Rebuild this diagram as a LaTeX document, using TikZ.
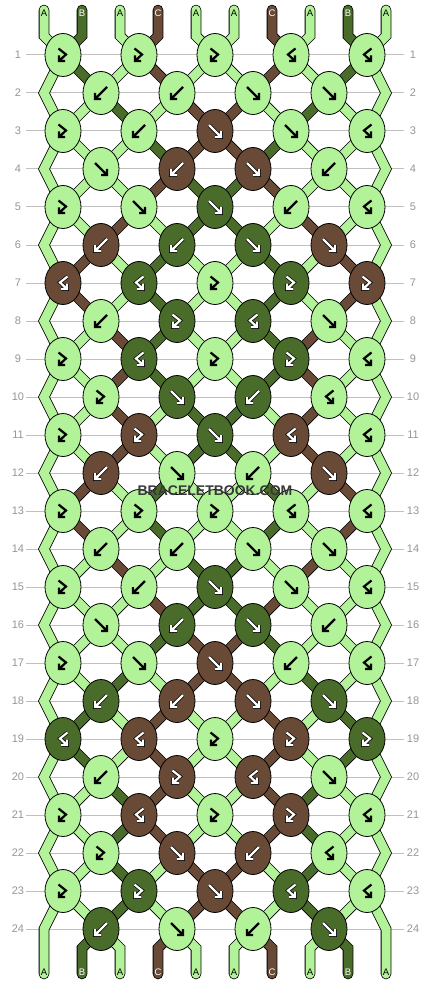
\documentclass[tikz,border=0pt]{standalone}
\usepackage{fontspec}
\setsansfont{Liberation Sans}
\usetikzlibrary{shapes.geometric}
\pgfdeclarelayer{grid}
\pgfdeclarelayer{strings}
\pgfsetlayers{grid,strings,main}

\definecolor{colA}{RGB}{178,242,152}
\definecolor{colB}{RGB}{74,108,42}
\definecolor{colC}{RGB}{104,74,54}
\colorlet{inkA}{black}
\colorlet{inkB}{white}
\colorlet{inkC}{white}
\colorlet{rimA}{colA}
\colorlet{rimB}{black}
\colorlet{rimC}{black}
\definecolor{linegray}{RGB}{192,192,192}
\definecolor{numgray}{RGB}{150,150,150}

% knot symbols (pt, y pointing down)
\def\glyphF{(-6,-6) -- (5.5,5.5) (6,0) -- (6,6) -- (0,6)}
\def\glyphB{(6,-6) -- (-5.5,5.5) (-6,0) -- (-6,6) -- (0,6)}
\def\glyphFB{(-4.5,-6.5) -- (3,-0.5) -- (-4,6) (-4,0.5) -- (-4,6) -- (2,6)}
\def\glyphBF{(4.5,-6.5) -- (-3,-0.5) -- (4,6) (4,0.5) -- (4,6) -- (-2,6)}

\begin{document}
\begin{tikzpicture}[x=1pt, y=-1pt,
  knot/.style={ellipse, draw=black, line width=0.8pt, minimum width=36pt,
    minimum height=43pt, inner sep=0pt},
  thread/.style={draw=black, line width=0.8pt, double=col#1, double distance=9pt},
  glyph/.style={line width=2.2pt, line join=miter},
  rowline/.style={draw=linegray, line width=1pt},
  rownum/.style={font=\sffamily\fontsize{11}{11}\selectfont, text=numgray},
  strtag/.style={font=\sffamily\fontsize{9.5}{9.5}\selectfont, inner sep=0pt},
  watermark/.style={font=\sffamily\bfseries\fontsize{14}{14}\selectfont, text=black!78}]

  \begin{pgfonlayer}{grid}
    \useasboundingbox[fill=white] (0,0) rectangle (430,984);
  \end{pgfonlayer}

  % row guides and numbers
  \foreach \r in {1,...,24} {
    \pgfmathsetmacro\ry{55+38*(\r-1)}
    \begin{pgfonlayer}{grid}
      \draw[rowline] (26,\ry) -- (404,\ry);
    \end{pgfonlayer}
    \node[rownum] (numL\r) at (18,\ry) {\r};
    \node[rownum] (numR\r) at (413,\ry) {\r};
    \coordinate (eL\r) at (44,\ry);
    \coordinate (eR\r) at (386,\ry);
  }

  % knots: type/colour
  \foreach \knots [count=\r] in {
    {FB/A,FB/A,FB/A,BF/A,BF/A}, % 1
    {B/A,B/A,F/A,F/A},
    {FB/A,B/A,F/C,F/A,BF/A},
    {F/A,B/C,F/C,B/A},
    {FB/A,F/A,F/B,B/A,BF/A}, % 5
    {B/C,B/B,F/B,F/C},
    {BF/C,BF/B,FB/A,FB/B,FB/C},
    {B/A,FB/B,BF/B,F/A},
    {FB/A,BF/B,FB/A,FB/B,BF/A},
    {FB/A,F/B,B/B,BF/A}, % 10
    {FB/A,FB/C,F/B,BF/C,BF/A},
    {B/C,F/A,B/A,F/C},
    {FB/A,FB/A,FB/A,BF/A,BF/A},
    {B/A,B/A,F/A,F/A},
    {FB/A,B/A,F/B,F/A,BF/A}, % 15
    {F/A,B/B,F/B,B/A},
    {FB/A,F/A,F/C,B/A,BF/A},
    {B/B,B/C,F/C,F/B},
    {BF/B,BF/C,FB/A,FB/C,FB/B},
    {B/A,FB/C,BF/C,F/A}, % 20
    {FB/A,BF/C,FB/A,FB/C,BF/A},
    {FB/A,F/C,B/C,BF/A},
    {FB/A,FB/B,F/C,BF/B,BF/A},
    {B/B,F/A,B/A,F/B}}{
    \foreach \t/\c [count=\k] in \knots {
      \pgfmathsetmacro\kx{63+76*(\k-1)+38*(1-mod(\r,2))}
      \pgfmathsetmacro\ky{55+38*(\r-1)}
      \node[knot, fill=col\c] (k\r-\k) at (\kx,\ky) {};
      \expandafter\let\expandafter\gpath\csname glyph\t\endcsname
      \draw[glyph, line width=3.6pt, draw=rim\c, shift={(k\r-\k.center)}] \gpath;
      \draw[glyph, draw=ink\c, shift={(k\r-\k.center)}] \gpath;
    }
  }

  \begin{pgfonlayer}{strings}
    % top ends
    \foreach \c [count=\p] in {A,B,A,C,A,A,C,A,B,A} {
      \pgfmathsetmacro\sx{44+38*(\p-1)}
      \pgfmathtruncatemacro\k{(\p+1)/2}
      \coordinate (top\p) at (\sx,10);
      \coordinate (topbend\p) at (\sx,36);
      \draw[thread=\c, line cap=round] (top\p) -- (topbend\p) -- (k1-\k.center);
      \node[strtag, text=ink\c] (toplab\p) at (\sx,13) {\c};
    }
    % strings after each row
    \foreach \st [count=\r] in {
      {A,B,A,C,A,A,C,A,B,A}, % 1
      {A,A,B,A,C,C,A,B,A,A},
      {A,A,A,B,C,C,B,A,A,A},
      {A,A,A,C,B,B,C,A,A,A},
      {A,A,C,A,B,B,A,C,A,A}, % 5
      {A,C,A,B,A,A,B,A,C,A},
      {A,C,A,B,A,A,B,A,C,A},
      {A,A,C,B,A,A,B,C,A,A},
      {A,A,C,B,A,A,B,C,A,A},
      {A,A,C,A,B,B,A,C,A,A}, % 10
      {A,A,C,A,B,B,A,C,A,A},
      {A,C,A,B,A,A,B,A,C,A},
      {A,C,A,B,A,A,B,A,C,A},
      {A,A,C,A,B,B,A,C,A,A},
      {A,A,A,C,B,B,C,A,A,A}, % 15
      {A,A,A,B,C,C,B,A,A,A},
      {A,A,B,A,C,C,A,B,A,A},
      {A,B,A,C,A,A,C,A,B,A},
      {A,B,A,C,A,A,C,A,B,A},
      {A,A,B,C,A,A,C,B,A,A}, % 20
      {A,A,B,C,A,A,C,B,A,A},
      {A,A,B,A,C,C,A,B,A,A},
      {A,A,B,A,C,C,A,B,A,A},
      {A,B,A,C,A,A,C,A,B,A}}{
      \pgfmathtruncatemacro\rp{\r-1}
      \pgfmathtruncatemacro\rn{\r+1}
      \foreach \c [count=\p] in \st {
        \ifnum\r<24
          \ifnum\p>1 \ifnum\p<10
            \ifodd\r
              \pgfmathtruncatemacro\ka{(\p+1)/2}\pgfmathtruncatemacro\kb{\p/2}
            \else
              \pgfmathtruncatemacro\ka{\p/2}\pgfmathtruncatemacro\kb{(\p+1)/2}
            \fi
            \draw[thread=\c] (k\r-\ka.center) -- (k\rn-\kb.center);
          \fi\fi
          \ifodd\r\else
            \ifnum\p=1 \draw[thread=\c] (k\rp-1.center) -- (eL\r) -- (k\rn-1.center); \fi
            \ifnum\p=10 \draw[thread=\c] (k\rp-5.center) -- (eR\r) -- (k\rn-5.center); \fi
          \fi
        \else
          % bottom ends
          \pgfmathsetmacro\sx{44+38*(\p-1)}
          \coordinate (bot\p) at (\sx,974);
          \ifnum\p=1 \draw[thread=\c, line cap=round] (k23-1.center) -- (eL24) -- (bot\p); \fi
          \ifnum\p=10 \draw[thread=\c, line cap=round] (k23-5.center) -- (eR24) -- (bot\p); \fi
          \ifnum\p>1 \ifnum\p<10
            \pgfmathtruncatemacro\ka{\p/2}
            \coordinate (botbend\p) at (\sx,948);
            \draw[thread=\c, line cap=round] (k24-\ka.center) -- (botbend\p) -- (bot\p);
          \fi\fi
          \node[strtag, text=ink\c] (botlab\p) at (\sx,972) {\c};
        \fi
      }
    }
  \end{pgfonlayer}

  \node[watermark] (wm) at (215,491) {BRACELETBOOK.COM};
\end{tikzpicture}
\end{document}
